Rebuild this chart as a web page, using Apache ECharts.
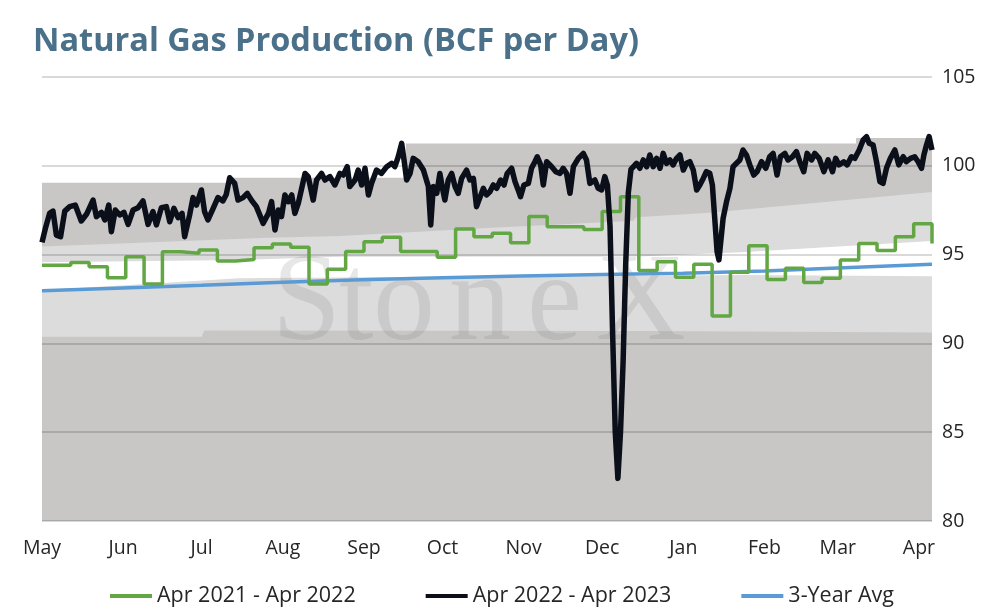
<!DOCTYPE html>
<html><head><meta charset="utf-8">
<script src="https://cdn.jsdelivr.net/npm/echarts@6/dist/echarts.min.js"></script>
<style>html,body{margin:0;padding:0;background:#fff}#c{width:994px;height:614px}</style>
</head><body><div id="c"></div>
<script>
// ---- data (x = days since 1 May) ----
const monthNames = ['Jan','Feb','Mar','Apr','May','Jun','Jul','Aug','Sep','Oct','Nov','Dec'];
const yTicks = [80, 85, 90, 95, 100, 105];

const blackDays = [0,1.3,2.9,4.2,5.5,7.1,8.7,10.6,12.7,15.0,17.0,19.5,20.8,22.7,24.0,25.5,26.5,28.0,29.7,31.3,32.9,34.8,36.7,38.6,40.5,42.4,43.7,45.6,47.5,48.8,50.4,52.0,53.5,54.5,56.4,57.7,59.0,60.9,62.1,63.4,65.3,67.2,69.1,70.4,71.7,73.6,74.9,76.8,78.4,80.0,81.9,
84.5,86.5,87.7,89.0,90.3,91.5,92.8,94.1,95.4,96.6,97.9,99.2,100.5,101.7,103.6,104.9,106.8,108.1,110.0,111.9,113.8,115.1,116.6,117.6,119.6,120.8,122.1,123.4,124.7,125.9,127.8,129.7,131.7,133.6,134.8,136.1,137.4,138.3,139.3,140.6,141.8,143.7,145.7,147.6,148.5,149.5,150.8,152.0,153.0,153.9,155.2,156.5,157.8,159.0,160.3,162.2,163.5,164.8,166.0,
168.6,169.8,171.1,172.4,173.7,175.2,176.5,177.7,179.4,180.7,181.9,182.8,184.1,185.8,187.0,188.3,189.2,190.5,191.5,192.8,194.7,196.3,197.9,199.1,200.4,201.7,203.0,204.9,206.8,208.0,209.3,211.2,212.5,213.8,215.0,
216,217,218,219,220,221,222,223,224,225,
227.1,228.4,229.7,231.0,232.2,233.5,234.8,236.1,237.3,238.6,239.9,241.1,242.4,243.7,245.0,246.2,247.5,248.8,250.1,
251.3,252.6,253.8,255.1,256.1,257.0,257.9,258.6,259.3,260.2,261.5,262.8,264.0,265.3,266.6,267.8,269.1,270.4,271.9,273.2,274.9,276.5,278.0,279.3,280.8,282.1,283.8,285.0,286.7,288.2,289.5,291.0,292.3,294.0,295.2,296.9,298.7,300.3,302.0,303.2,304.5,306.3,307.6,309.2,310.5,312.2,313.7,315.0,316.0,317.5,318.8,320.1,321.3,322.6,324.1,325.8,327.3,329.0,330.2,331.8,333.4,334.7,336.0,336.9,337.9,338.9,340];
const blackVals = [95.69,96.48,97.32,97.45,96.1,96.01,97.45,97.7,97.79,96.89,97.27,98.07,97.14,97.38,96.95,97.79,96.29,97.51,97.23,97.38,96.7,97.51,97.64,98.02,96.7,97.42,96.67,97.64,97.7,96.85,97.6,97.08,97.32,96.01,97.23,98.21,97.79,98.64,97.42,96.95,97.57,98.21,98.02,98.39,99.33,99.01,98.07,98.21,98.45,98.07,97.7,
96.76,97.32,97.98,96.39,97.51,97.14,98.36,97.98,98.36,97.32,97.89,98.73,99.57,99.39,98.07,99.2,99.57,99.2,99.39,98.92,99.57,99.48,99.95,98.83,99.2,99.76,98.92,99.86,98.36,99.01,99.76,99.57,99.95,100.14,99.95,100.51,101.26,100.33,99.2,99.57,100.42,100.23,99.76,98.83,96.67,98.83,98.45,99.57,98.73,98.07,99.2,99.57,98.83,98.45,99.29,99.76,99.2,99.29,97.7,
98.73,98.36,98.54,98.92,98.73,99.2,98.92,99.57,99.86,99.11,98.64,98.26,98.92,99.01,99.86,100.23,100.51,100.05,98.92,100.23,99.95,99.67,99.57,99.86,99.57,98.45,99.95,100.42,100.7,100.33,99.01,99.2,98.73,98.64,99.39,
98.9,96.6,90.5,85.0,82.4,85.0,89.0,94.5,98.5,99.8,
100.14,99.86,100.33,99.95,100.61,99.95,100.42,99.86,100.7,100.14,100.33,100.05,100.42,100.61,99.76,100.14,100.23,99.76,98.64,
98.92,99.29,99.67,99.58,98.92,97.04,95.16,94.7,95.73,97.04,97.98,98.73,99.95,100.14,100.33,100.89,100.61,100.05,99.48,99.67,100.23,99.86,100.51,100.7,99.48,100.51,100.7,100.33,100.51,100.8,100.23,99.67,100.7,100.33,100.7,100.42,99.67,100.33,99.67,100.42,100.05,100.23,100.05,100.51,100.42,100.89,101.45,101.64,101.27,101.17,100.23,99.11,99.01,99.86,100.42,100.89,100.05,100.51,100.23,100.42,100.51,100.23,99.86,100.61,101.17,101.64,100.89];

const greenDays = [0,11,18,25,32,39,46,53,60,67,74,81,88,95,102,109,116,123,130,137,151,158,165,172,179,186,193,207,214,221,228,235,242,249,256,263,270,277,284,291,298,305,312,319,326,333,340];
const greenVals = [94.4,94.56,94.32,93.7,94.88,93.35,95.16,95.07,95.26,94.64,94.73,95.39,95.6,95.41,93.34,94.17,95.17,95.73,95.97,95.17,94.85,96.44,96.01,96.2,95.67,97.14,96.57,96.42,97.42,98.26,94.1,94.6,93.72,94.45,91.54,94.0,95.5,93.6,94.23,93.43,93.67,94.7,95.62,95.23,96.01,96.74,95.63];

const blueDays = [0,31,61,92,122,153,183,214,245,276,304,340];
const blueVals = [92.97,93.12,93.27,93.45,93.58,93.7,93.8,93.88,93.95,94.08,94.25,94.45];

// background range bands (boundaries)
const topDays = [0,71,139,311,340];
const topVals = [99.05,99.33,101.25,101.57,101.57];
const upperMidDays = [0,25,86,114,170,226,227,255,340];
const upperMidVals = [95.45,95.6,95.95,96.05,96.5,96.9,97.1,97.35,98.52];
const whiteTopDays = [0,75,114,228,267,340];
const whiteTopVals = [94.57,94.7,94.88,94.9,95.13,95.77];
const whiteBotDays = [0,40,75,150,228,267,340];
const whiteBotVals = [93.0,93.35,93.67,93.75,93.8,93.85,93.78];
const lowDays = [0,61,62,228,340];
const lowVals = [90.38,90.38,90.73,90.7,90.62];

const seriesNames = ['Apr 2021 - Apr 2022','Apr 2022 - Apr 2023','3-Year Avg'];
const watermark = ['S','t','o','n','e','X'];

// ---- build ----
const DAY = 86400000;
const base = new Date(2022, 4, 1).getTime();
const pairs = (d, v) => d.map((x, i) => [base + x * DAY, v[i]]);

function band(days, vals, color, z, step) {
  return {
    type: 'line', data: pairs(days, vals), symbol: 'none', silent: true,
    step: step || false, z: z, animation: false,
    lineStyle: { width: 0 },
    areaStyle: { color: color, opacity: 1, origin: 'start' }
  };
}

const wmX = [272, 339, 373, 449, 527, 596];
const wmElements = watermark.map((ch, i) => ({
  type: 'text', x: wmX[i], y: 306, z: 2, silent: true,
  style: { text: ch, font: '124px "Liberation Serif"', fill: 'rgba(120,120,120,0.18)', verticalAlign: 'middle', align: 'left' }
}));

const FONT = 'Open Sans';
const chart = echarts.init(document.getElementById('c'));
chart.setOption({
  animation: false,
  textStyle: { fontFamily: FONT },
  title: {
    text: 'Natural Gas Production (BCF per Day)',
    left: 33, top: 25, padding: 0,
    textStyle: { fontFamily: FONT, fontWeight: 'bold', fontSize: 32.5, color: '#4a708a' }
  },
  grid: { left: 42, right: 62, top: 77, bottom: 93 },
  xAxis: {
    type: 'time',
    min: base, max: base + 340 * DAY,
    splitNumber: 12, minInterval: 28 * DAY, maxInterval: 32 * DAY,
    axisLine: { show: false }, axisTick: { show: false }, splitLine: { show: false },
    axisLabel: {
      fontSize: 19.5, color: '#262626', margin: 17, fontFamily: FONT,
      showMaxLabel: false, showMinLabel: true, hideOverlap: false,
      formatter: v => monthNames[new Date(v).getMonth()]
    }
  },
  yAxis: {
    type: 'value', position: 'right', min: yTicks[0], max: yTicks[yTicks.length - 1], interval: 5,
    z: 2,
    axisLine: { show: false }, axisTick: { show: false },
    splitLine: { lineStyle: { color: 'rgba(0,0,0,0.15)', width: 2 } },
    axisLabel: { fontSize: 19.5, color: '#262626', margin: 10, fontFamily: FONT }
  },
  legend: {
    data: seriesNames, left: 105, top: 580, itemGap: 70, itemWidth: 42, itemHeight: 4,
    icon: 'rect',
    textStyle: { fontSize: 21.5, color: '#262626', fontFamily: FONT }
  },
  graphic: { elements: wmElements },
  series: [
    band(topDays, topVals, '#c8c7c6', 1, 'end'),
    band(upperMidDays, upperMidVals, '#dcdcdc', 1.1),
    band(whiteTopDays, whiteTopVals, '#ffffff', 1.2),
    band(whiteBotDays, whiteBotVals, '#dcdcdc', 1.3),
    band(lowDays, lowVals, '#c8c7c6', 1.4),
    { name: seriesNames[2], type: 'line', data: pairs(blueDays, blueVals), symbol: 'none', z: 3,
      lineStyle: { color: '#5b9bd5', width: 3.5 }, itemStyle: { color: '#5b9bd5' } },
    { name: seriesNames[0], type: 'line', data: pairs(greenDays, greenVals), symbol: 'none', step: 'end', z: 4,
      lineStyle: { color: '#62a744', width: 3.5 }, itemStyle: { color: '#62a744' } },
    { name: seriesNames[1], type: 'line', data: pairs(blackDays, blackVals), symbol: 'none', z: 5,
      lineStyle: { color: '#0a0f1a', width: 5.5, join: 'round' }, itemStyle: { color: '#0a0f1a' } }
  ]
});
</script></body></html>
